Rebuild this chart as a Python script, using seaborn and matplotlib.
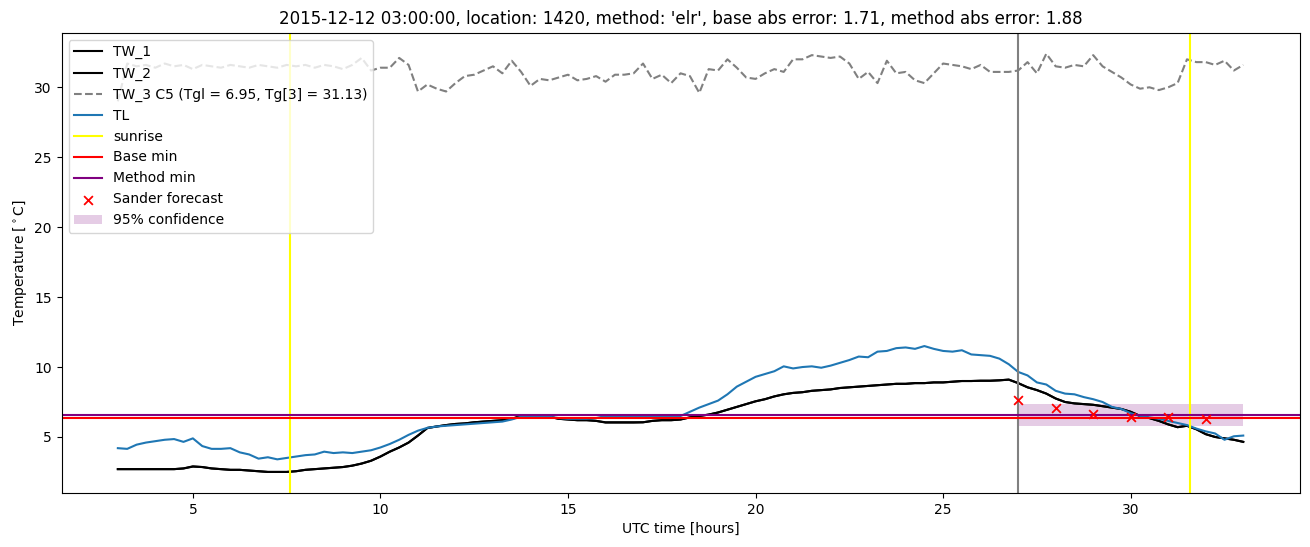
import numpy as np
import pandas as pd
import matplotlib
matplotlib.use("Agg")
import matplotlib.pyplot as plt
import seaborn as sns

# ---- data ----
hours = np.arange(3, 33.001, 0.25)

tl = [4.2, 4.15, 4.45, 4.6, 4.7, 4.8, 4.85, 4.65, 4.9, 4.35,
      4.15, 4.15, 4.2, 3.9, 3.75, 3.45, 3.55, 3.4, 3.5, 3.6,
      3.7, 3.75, 3.95, 3.85, 3.9, 3.85, 3.95, 4.05, 4.25, 4.5,
      4.8, 5.15, 5.45, 5.65, 5.75, 5.8, 5.85, 5.9, 5.95, 6.0,
      6.05, 6.1, 6.25, 6.45, 6.45, 6.45, 6.45, 6.35, 6.3, 6.3,
      6.3, 6.35, 6.5, 6.5, 6.5, 6.5, 6.5, 6.5, 6.5, 6.5,
      6.5, 6.8, 7.1, 7.35, 7.6, 8.05, 8.6, 8.95, 9.3, 9.5,
      9.7, 10.05, 9.9, 10.0, 10.05, 9.95, 10.1, 10.3, 10.5, 10.75,
      10.7, 11.1, 11.15, 11.35, 11.4, 11.3, 11.5, 11.3, 11.15, 11.1,
      11.2, 10.9, 10.85, 10.8, 10.6, 10.2, 9.65, 9.4, 8.9, 8.75,
      8.3, 8.1, 8.05, 7.85, 7.7, 7.5, 7.15, 7.0, 6.7, 6.5,
      6.4, 6.3, 6.15, 6.0, 5.85, 5.6, 5.4, 5.25, 4.8, 5.05,
      5.1]

tw1 = [2.7, 2.7, 2.7, 2.7, 2.7, 2.7, 2.7, 2.75, 2.9, 2.85,
       2.75, 2.7, 2.65, 2.65, 2.6, 2.55, 2.5, 2.5, 2.5, 2.55,
       2.65, 2.7, 2.75, 2.8, 2.85, 2.95, 3.1, 3.3, 3.6, 3.95,
       4.25, 4.6, 5.1, 5.65, 5.75, 5.85, 5.93, 5.97, 6.05, 6.1,
       6.15, 6.2, 6.3, 6.5, 6.5, 6.5, 6.45, 6.3, 6.25, 6.2,
       6.2, 6.15, 6.05, 6.05, 6.05, 6.05, 6.05, 6.15, 6.2, 6.2,
       6.25, 6.4, 6.5, 6.6, 6.75, 6.95, 7.15, 7.35, 7.55, 7.7,
       7.9, 8.05, 8.15, 8.2, 8.3, 8.35, 8.4, 8.5, 8.55, 8.6,
       8.65, 8.7, 8.75, 8.8, 8.8, 8.85, 8.85, 8.9, 8.9, 8.95,
       9.0, 9.0, 9.02, 9.02, 9.05, 9.1, 8.85, 8.55, 8.35, 8.1,
       7.75, 7.5, 7.4, 7.35, 7.3, 7.2, 7.1, 7.0, 6.8, 6.5,
       6.35, 6.15, 5.9, 5.7, 5.8, 5.55, 5.2, 5.0, 4.9, 4.8,
       4.65]

tw2 = [2.7, 2.7, 2.7, 2.7, 2.7, 2.7, 2.7, 2.75, 2.88, 2.85,
       2.75, 2.7, 2.65, 2.65, 2.6, 2.55, 2.5, 2.5, 2.5, 2.55,
       2.65, 2.7, 2.75, 2.8, 2.85, 2.95, 3.1, 3.3, 3.6, 3.95,
       4.25, 4.6, 5.1, 5.63, 5.75, 5.85, 5.93, 5.97, 6.05, 6.1,
       6.15, 6.2, 6.3, 6.5, 6.5, 6.5, 6.45, 6.3, 6.25, 6.2,
       6.2, 6.15, 6.03, 6.03, 6.03, 6.03, 6.05, 6.15, 6.2, 6.2,
       6.25, 6.4, 6.5, 6.6, 6.75, 6.95, 7.15, 7.35, 7.55, 7.7,
       7.9, 8.05, 8.15, 8.2, 8.3, 8.35, 8.4, 8.5, 8.55, 8.6,
       8.65, 8.7, 8.75, 8.8, 8.8, 8.85, 8.85, 8.9, 8.9, 8.95,
       9.0, 9.0, 9.02, 9.02, 9.05, 9.1, 8.85, 8.55, 8.35, 8.1,
       7.75, 7.5, 7.4, 7.35, 7.3, 7.2, 7.1, 7.0, 6.8, 6.5,
       6.35, 6.15, 5.9, 5.7, 5.8, 5.55, 5.2, 5.0, 4.9, 4.8,
       4.65]

tw3 = [29.0, 31.7, 31.5, 31.6, 31.4, 31.7, 31.5, 31.6, 31.3, 31.6,
       31.5, 31.4, 31.6, 31.5, 31.4, 31.6, 31.5, 31.4, 31.6, 31.5,
       31.6, 31.4, 31.6, 31.5, 31.3, 31.6, 32.1, 31.2, 31.4, 31.4,
       32.1, 31.6, 29.7, 30.2, 29.9, 29.7, 30.3, 30.8, 30.9, 31.2,
       31.5, 31.0, 31.9, 31.1, 30.1, 30.6, 30.5, 30.7, 30.9, 30.5,
       30.6, 30.8, 30.4, 30.9, 30.9, 31.0, 31.7, 30.6, 30.9, 30.3,
       31.0, 30.8, 29.6, 31.3, 31.2, 32.0, 31.4, 30.7, 30.6, 31.0,
       31.3, 31.1, 32.0, 32.0, 32.3, 32.2, 32.1, 32.2, 31.7, 30.6,
       31.1, 30.3, 31.9, 31.0, 31.1, 30.5, 30.3, 31.0, 31.7, 31.6,
       31.5, 31.3, 31.6, 31.1, 31.1, 31.1, 31.2, 31.8, 31.0, 32.4,
       31.5, 31.4, 31.6, 31.5, 32.3, 31.5, 31.1, 30.7, 30.2, 29.9,
       30.0, 29.8, 30.0, 30.3, 32.0, 31.8, 31.8, 31.6, 31.9, 31.2,
       31.6]

sunrise_hours = [7.58, 31.58]
forecast_time = 27.0
base_min = 6.38
method_min = 6.57
sander_hours = [27, 28, 29, 30, 31, 32]
sander_values = [7.64, 7.1, 6.64, 6.45, 6.4, 6.31]
conf_hours = [27, 33]
conf_lower = [5.75, 5.75]
conf_upper = [7.35, 7.35]

title = ("2015-12-12 03:00:00, location: 1420, method: 'elr', "
         "base abs error: 1.71, method abs error: 1.88")

# ---- plot ----
fig, ax = plt.subplots(figsize=(13.1, 5.47), dpi=100)
fig.subplots_adjust(left=0.047, right=0.992, bottom=0.099, top=0.94)

sns.lineplot(x=hours, y=tw1, ax=ax, color="black", label="TW_1", linewidth=1.5)
sns.lineplot(x=hours, y=tw2, ax=ax, color="black", label="TW_2", linewidth=1.5)
sns.lineplot(x=hours, y=tw3, ax=ax, color="gray", linestyle="--",
             label="TW_3 C5 (Tgl = 6.95, Tg[3] = 31.13)", linewidth=1.5)
sns.lineplot(x=hours, y=tl, ax=ax, color="tab:blue", label="TL", linewidth=1.5)

for i, s in enumerate(sunrise_hours):
    ax.axvline(s, color="yellow", label="sunrise" if i == 0 else None)
ax.axvline(forecast_time, color="gray")
ax.axhline(base_min, color="red", label="Base min")
ax.axhline(method_min, color="purple", label="Method min")
sns.scatterplot(x=sander_hours, y=sander_values, ax=ax, marker="x",
                color="red", s=40, linewidth=1.3, label="Sander forecast", zorder=5)
ax.fill_between(conf_hours, conf_lower, conf_upper, color="purple", alpha=0.2,
                linewidth=0, label="95% confidence")

ax.set_title(title, fontsize=12)
ax.set_xlabel("UTC time [hours]")
ax.set_ylabel(r"Temperature [$^\circ$C]")
ax.legend(loc="upper left")

fig.savefig("out.png", dpi=100)
